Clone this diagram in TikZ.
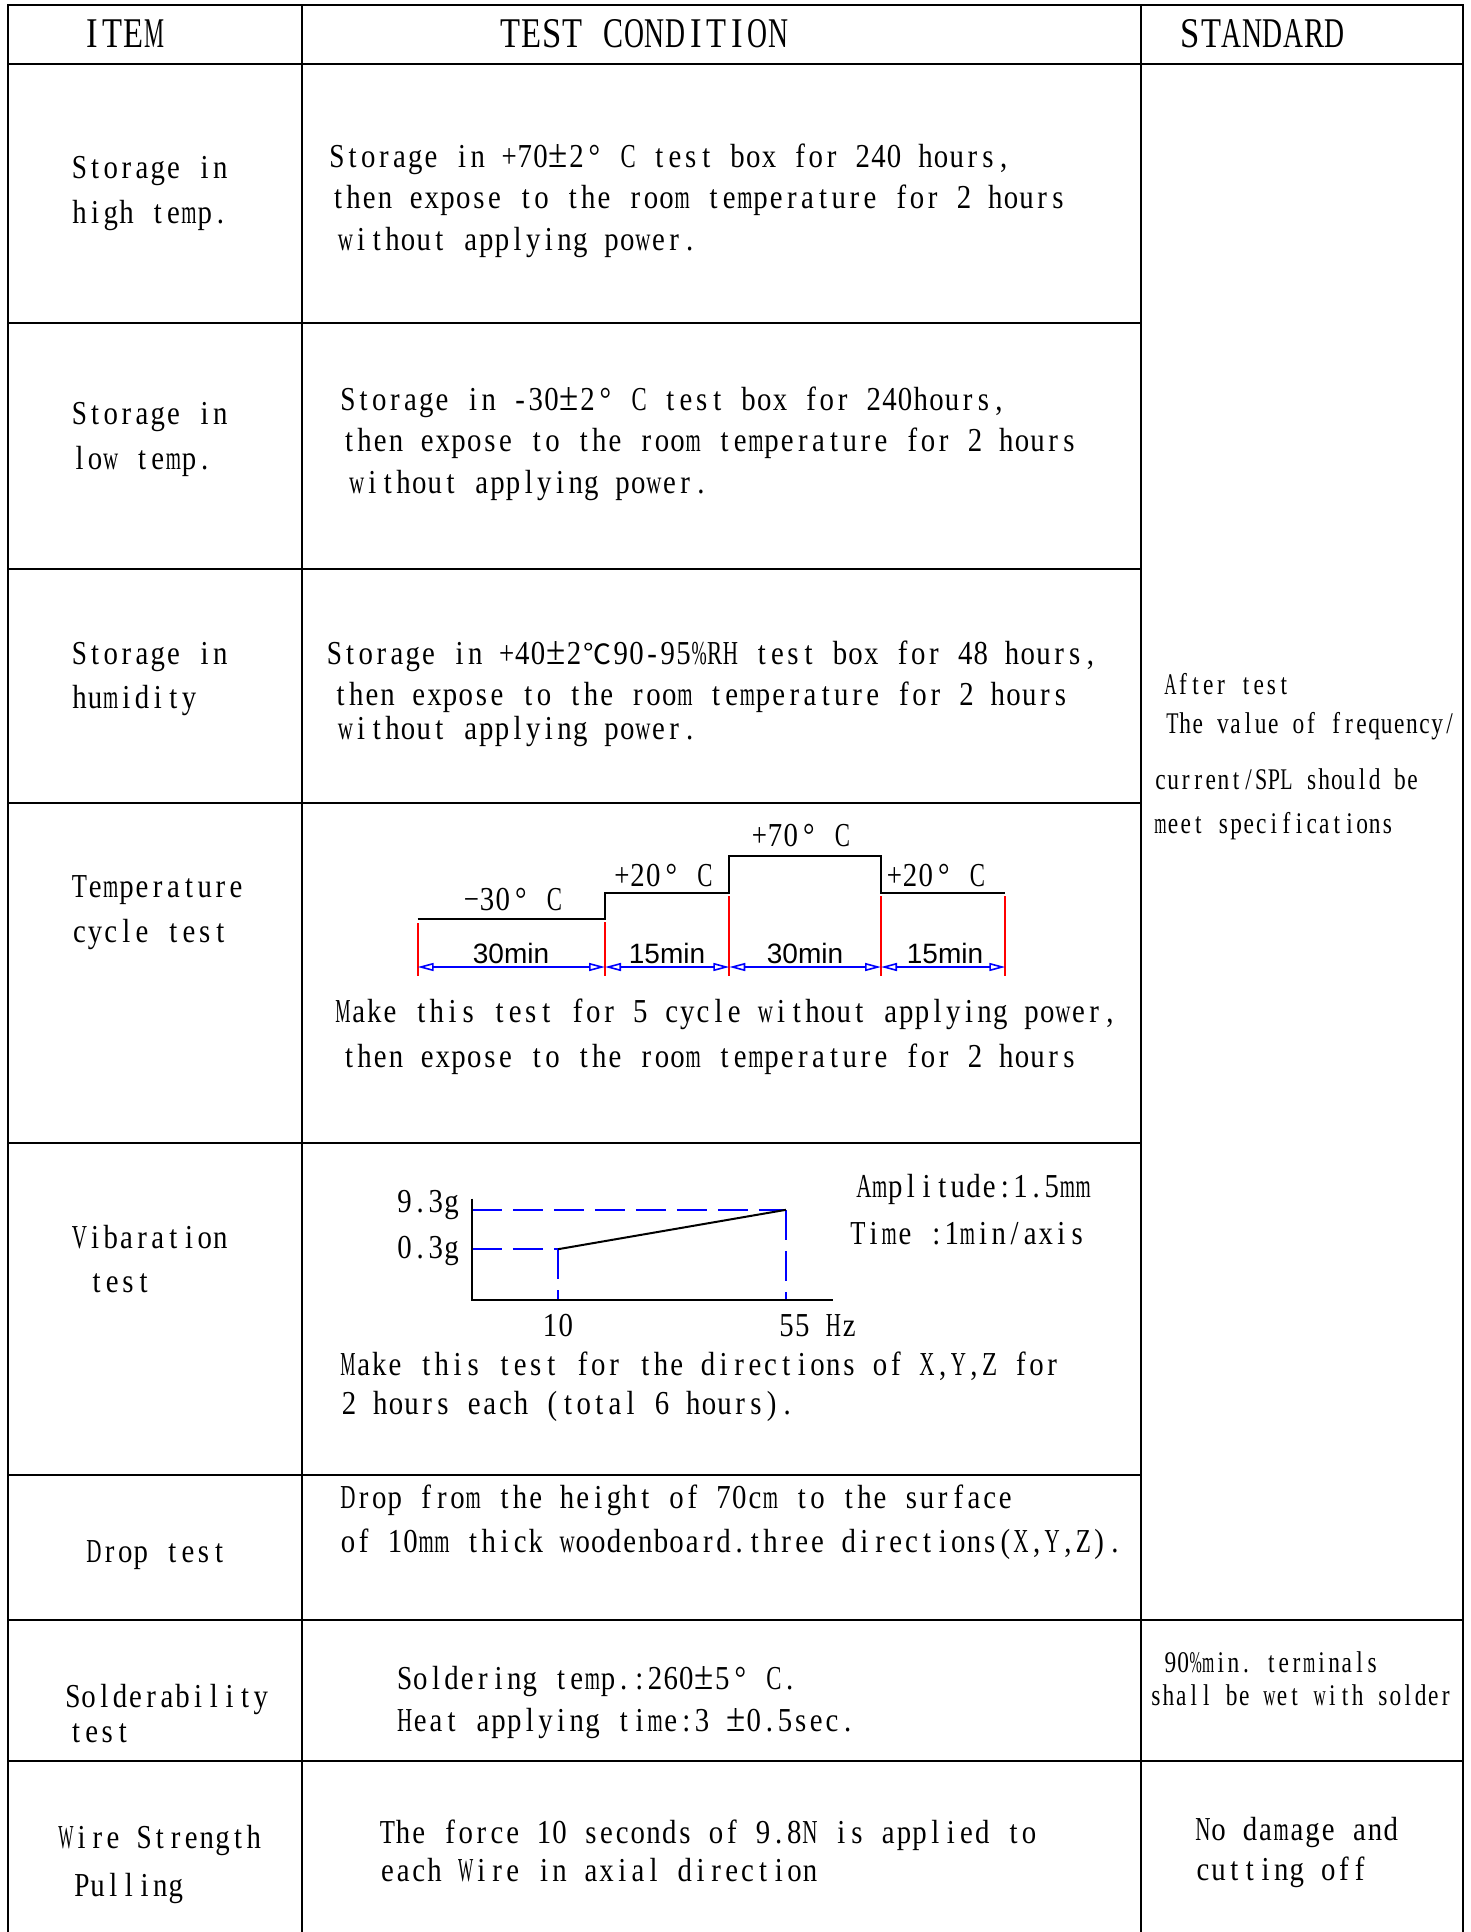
\documentclass[tikz,border=0pt]{standalone}
\usepackage{fontspec}
\setmainfont{Liberation Serif}[FakeStretch=0.86]
\newfontfamily\hdfont{Liberation Serif}[FakeStretch=0.82]
\newfontfamily\smfont{Liberation Serif}[FakeStretch=0.78]
\newfontfamily\dimfont{Liberation Sans}
\newfontfamily\cjk{Noto Sans CJK SC}
\usetikzlibrary{arrows.meta}
\newlength\cellw
\setlength\cellw{15.65pt}
\ExplSyntaxOn
\box_new:N \l_mycell_box
\cs_new_protected:Npn \mycell_put:nnn #1 #2 #3
  {
    \hbox_set:Nn \l_mycell_box {#1}
    \dim_compare:nNnT { \box_wd:N \l_mycell_box } > { #2\cellw }
      {
        \box_scale:Nnn \l_mycell_box
          { \dim_to_fp:n { #2\cellw } / \dim_to_fp:n { \box_wd:N \l_mycell_box } }
          { 1 }
      }
    \hbox_to_wd:nn { #3\cellw } { \hss \box_use_drop:N \l_mycell_box \hss }
  }
\NewDocumentCommand\cells{m}
  {
    \str_map_inline:nn {#1}
      {
        \str_case:nnF {##1}
          {
            {±}{\mycell_put:nnn {\fontsize{2.6\cellw}{2.6\cellw}\selectfont ##1} {1.3} {1.3}}
            {°}{\mycell_put:nnn {##1} {1.3} {1.3}}
          }
          { \mycell_put:nnn {##1} {0.97} {1} }
      }
  }
\NewDocumentCommand\pc{}{\mycell_put:nnn {\%} {0.97} {1}}
\ExplSyntaxOff
\tikzset{
  grid/.style={line width=2pt, line cap=rect},
  body/.style={anchor=base west, yshift=-11pt, inner sep=0pt, font=\fontsize{33.5}{40}\selectfont\setlength\cellw{15.65pt}},
  hdr/.style={anchor=base west, yshift=-14pt, inner sep=0pt, font=\hdfont\fontsize{42.3}{48}\selectfont\setlength\cellw{20.6pt}},
  smalltxt/.style={anchor=base west, yshift=-10pt, inner sep=0pt, font=\smfont\fontsize{30}{36}\selectfont\setlength\cellw{12.6pt}},
  tlab/.style={anchor=base, inner sep=0pt, font=\fontsize{33.5}{40}\selectfont\setlength\cellw{15.65pt}},
  dimlab/.style={anchor=base, inner sep=0pt, font=\dimfont\fontsize{28}{30}\selectfont},
  prof/.style={line width=2pt},
  redl/.style={red, line width=1.8pt},
  dimline/.style={blue, line width=1.6pt, {Triangle[open,length=16pt,width=8pt]}-{Triangle[open,length=16pt,width=8pt]}},
  bdash/.style={blue, line width=1.8pt, dash pattern=on 30pt off 11pt},
}
\begin{document}
\begin{tikzpicture}[x=1pt, y=-1pt]
\useasboundingbox (0,0) rectangle (1471,1932);
\fill[white] (0,0) rectangle (1471,1932);

% ---------- table grid ----------
\draw[grid] (8,5) -- (1463,5);
\draw[grid] (8,64) -- (1463,64);
\foreach \yy in {323,569,803,1143,1475} \draw[grid] (8,\yy) -- (1141,\yy);
\draw[grid] (8,1620) -- (1463,1620);
\draw[grid] (8,1761) -- (1463,1761);
\foreach \xx in {8,302,1141,1463} \draw[grid] (\xx,5) -- (\xx,1932);

% ---------- header ----------
\node[hdr] (hItem) at (81.7,34) {\cells{ITEM}};
\node[hdr] (hCond) at (500,34) {\cells{TEST CONDITION}};
\node[hdr] (hStd) at (1180,34) {\cells{STANDARD}};

% ---------- item column ----------
\node[body] (i1a) at (71.5,167.5) {\cells{Storage in}};
\node[body] (i1b) at (71.5,212) {\cells{high temp.}};
\node[body] (i2a) at (71.5,413) {\cells{Storage in}};
\node[body] (i2b) at (71.5,458) {\cells{low temp.}};
\node[body] (i3a) at (71.5,653) {\cells{Storage in}};
\node[body] (i3b) at (71.5,697) {\cells{humidity}};
\node[body] (i4a) at (71.5,886) {\cells{Temperature}};
\node[body] (i4b) at (71.5,931) {\cells{cycle test}};
\node[body] (i5a) at (71.5,1237) {\cells{Vibaration}};
\node[body] (i5b) at (88.7,1281) {\cells{test}};
\node[body] (i6) at (86,1551) {\cells{Drop test}};
\node[body] (i7a) at (65,1696) {\cells{Solderability}};
\node[body] (i7b) at (68,1731) {\cells{test}};
\node[body] (i8a) at (58,1837) {\cells{Wire Strength}};
\node[body] (i8b) at (74,1885) {\cells{Pulling}};

% ---------- condition column ----------
\node[body] (c1a) at (329,156) {\cells{Storage in +70±2° C test box for 240 hours,}};
\node[body] (c1b) at (330,197) {\cells{then expose to the room temperature for 2 hours}};
\node[body] (c1c) at (337.5,239) {\cells{without applying power.}};
\node[body] (c2a) at (340,399) {\cells{Storage in -30±2° C test box for 240hours,}};
\node[body] (c2b) at (341,440) {\cells{then expose to the room temperature for 2 hours}};
\node[body] (c2c) at (348.6,482) {\cells{without applying power.}};
\node[body] (c3a) at (326.5,653) {\cells{Storage in +40±2}\hbox to 2\cellw{\hss\cjk\fontsize{28}{30}\selectfont ℃\hss}\cells{90-95}\pc\cells{RH test box for 48 hours,}};
\node[body] (c3b) at (332.6,694) {\cells{then expose to the room temperature for 2 hours}};
\node[body] (c3c) at (337.5,728) {\cells{without applying power.}};
\node[body] (c4a) at (335,1011.5) {\cells{Make this test for 5 cycle without applying power,}};
\node[body] (c4b) at (341,1056) {\cells{then expose to the room temperature for 2 hours}};
\node[body] (c5a) at (340,1364) {\cells{Make this test for the directions of X,Y,Z for}};
\node[body] (c5b) at (341,1403) {\cells{2 hours each (total 6 hours).}};
\node[body] (c6a) at (340,1497) {\cells{Drop from the height of 70cm to the surface}};
\node[body] (c6b) at (340,1541) {\cells{of 10mm thick woodenboard.three directions(X,Y,Z).}};
\node[body] (c7a) at (396.7,1678) {\cells{Soldering temp.:260±5° C.}};
\node[body] (c7b) at (396.7,1720) {\cells{Heat applying time:3 ±0.5sec.}};
\node[body] (c8a) at (379.5,1832) {\cells{The force 10 seconds of 9.8N is applied to}};
\node[body] (c8b) at (379.5,1870) {\cells{each Wire in axial direction}};

% ---------- standard column ----------
\node[smalltxt] (s1a) at (1164,684) {\cells{After test}};
\node[smalltxt] (s1b) at (1166,723) {\cells{The value of frequency/}};
\node[smalltxt] (s1c) at (1154,779) {\cells{current/SPL should be}};
\node[smalltxt] (s1d) at (1154,823) {\cells{meet specifications}};
\node[smalltxt] (s2a) at (1164,1662) {\cells{90}\pc\cells{min. terminals}};
\node[smalltxt] (s2b) at (1149.5,1695) {\cells{shall be wet with solder}};
\node[body] (s3a) at (1195,1829) {\cells{No damage and}};
\node[body] (s3b) at (1195,1869) {\cells{cutting off}};

% ---------- temperature cycle diagram ----------
\coordinate (p0) at (417.6,919);
\coordinate (p1) at (605,919);
\coordinate (p2) at (605,893);
\coordinate (p3) at (729.3,893);
\coordinate (p4) at (729.3,856);
\coordinate (p5) at (881,856);
\coordinate (p6) at (881,893);
\coordinate (p7) at (1005.3,893);
\draw[prof] (p0) -- (p1) -- (p2) -- (p3) -- (p4) -- (p5) -- (p6) -- (p7);

\coordinate (r0t) at (417.6,923); \coordinate (r0b) at (417.6,976);
\coordinate (r1t) at (605,922);   \coordinate (r1b) at (605,976);
\coordinate (r2t) at (729.3,896); \coordinate (r2b) at (729.3,976);
\coordinate (r3t) at (881,896);   \coordinate (r3b) at (881,976);
\coordinate (r4t) at (1005.3,896);\coordinate (r4b) at (1005.3,976);
\foreach \k in {0,...,4} \draw[redl] (r\k t) -- (r\k b);

\coordinate (d0) at (417.6,967);
\coordinate (d1) at (605,967);
\coordinate (d2) at (729.3,967);
\coordinate (d3) at (881,967);
\coordinate (d4) at (1005.3,967);
\draw[dimline] (d0) -- (d1);
\draw[dimline] (d1) -- (d2);
\draw[dimline] (d2) -- (d3);
\draw[dimline] (d3) -- (d4);

\node[tlab] (tl1) at (513,910) {\cells{−30° C}};
\node[tlab] (tl2) at (663.5,886) {\cells{+20° C}};
\node[tlab] (tl3) at (801,846) {\cells{+70° C}};
\node[tlab] (tl4) at (936,886) {\cells{+20° C}};

\node[dimlab] (m1) at (511,963) {30min};
\node[dimlab] (m2) at (667,963) {15min};
\node[dimlab] (m3) at (805,963) {30min};
\node[dimlab] (m4) at (945,963) {15min};

% ---------- vibration diagram ----------
\coordinate (ax0) at (471.9,1300);
\coordinate (axT) at (471.9,1198.7);
\coordinate (axR) at (832.8,1300);
\coordinate (v1) at (558,1249.2);
\coordinate (v2) at (786,1209.8);
\coordinate (v1b) at (558,1300);
\coordinate (v2b) at (786,1300);
\coordinate (v1l) at (471.9,1249.2);
\coordinate (v2l) at (471.9,1209.8);
\draw[bdash] (v2l) -- (v2);
\draw[bdash] (v1l) -- (v1);
\draw[bdash] (v1) -- (v1b);
\draw[bdash] (v2) -- (v2b);
\draw[prof] (axT) -- (ax0) -- (axR);
\draw[prof] (v1) -- (v2);

\node[body, anchor=base east] (g93) at (459.5,1201) {\cells{9.3g}};
\node[body, anchor=base east] (g03) at (459.5,1247) {\cells{0.3g}};
\node[body, anchor=base] (f10) at (558,1325.6) {\cells{10}};
\node[body] (f55) at (778.6,1325.6) {\cells{55 Hz}};
\node[body] (amp) at (856,1186.4) {\cells{Amplitude:1.5mm}};
\node[body] (tim) at (850,1233) {\cells{Time :1min/axis}};
\end{tikzpicture}
\end{document}
